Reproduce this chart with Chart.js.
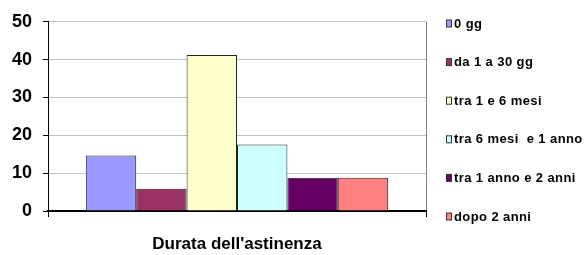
<!DOCTYPE html>
<html>
<head>
<meta charset="utf-8">
<script src="https://cdn.jsdelivr.net/npm/chart.js@4/dist/chart.umd.min.js"></script>
<style>
  html, body { margin: 0; padding: 0; background: #fff; }
  #grafico { display: block; }
</style>
</head>
<body>
<canvas id="grafico" width="584" height="255"></canvas>
<script>
// dati (percentuali)
const categorie = [''];
const etichette = ['0 gg', 'da 1 a 30 gg', 'tra 1 e 6 mesi', 'tra 6 mesi  e 1 anno', 'tra 1 anno e 2 anni', 'dopo 2 anni'];
const valori = [14.7, 5.9, 41.2, 17.6, 8.8, 8.8];
const colori = ['#9999FF', '#993366', '#FFFFCC', '#CCFFFF', '#660066', '#FF8080'];
const tickY = [0, 10, 20, 30, 40, 50];

const FONT = 'Liberation Sans, Arial, sans-serif';

// legenda a destra disegnata a mano per avere le posizioni giuste
const legendaDestra = {
    id: 'legendaDestra',
    afterDraw(chart) {
        const c = chart.ctx;
        c.save();
        c.font = 'bold 13px ' + FONT;
        c.letterSpacing = '0.4px';
        c.textBaseline = 'middle';
        c.textAlign = 'left';
        chart.data.datasets.forEach((ds, i) => {
            const y = 23 + i * 38.6;
            c.fillStyle = ds.backgroundColor;
            c.fillRect(446.5, y - 3, 5, 7);
            c.strokeStyle = '#333';
            c.lineWidth = 1;
            c.strokeRect(446.5, y - 3, 5, 7);
            c.fillStyle = '#000';
            c.fillText(ds.label, 454, y + 1);
        });
        c.restore();
    }
};

const ctx = document.getElementById('grafico').getContext('2d');

const config = {
    type: 'bar',
    data: {
        labels: categorie,
        datasets: etichette.map((nome, i) => ({
            label: nome,
            data: [valori[i]],
            backgroundColor: colori[i],
            borderColor: '#222',
            borderWidth: 1,
            categoryPercentage: 0.8,
            barPercentage: 1.0
        }))
    },
    options: {
        responsive: false,
        animation: false,
        layout: { padding: { left: 0, right: 158, top: 16, bottom: 0 } },
        plugins: {
            legend: { display: false },
            tooltip: { enabled: false }
        },
        scales: {
            x: {
                grid: {
                    offset: true,
                    color: '#808080',
                    tickColor: '#000',
                    tickLength: 6,
                    lineWidth: 1
                },
                border: { color: '#000', width: 2 },
                ticks: { display: false },
                title: {
                    display: true,
                    text: "Durata dell'astinenza",
                    color: '#000',
                    font: { family: FONT, size: 17, weight: 'bold' },
                    padding: { top: 0, bottom: 0 }
                },
                afterFit(scale) { scale.height = 44; }
            },
            y: {
                min: 0,
                max: 50,
                afterBuildTicks(scale) {
                    scale.ticks = tickY.map(v => ({ value: v }));
                },
                grid: {
                    color: '#c0c0c0',
                    tickColor: '#000',
                    tickLength: 5
                },
                border: { color: '#000', width: 1 },
                ticks: {
                    color: '#000',
                    padding: 11,
                    font: { family: FONT, size: 18, weight: 'bold' }
                },
                afterFit(scale) { scale.width = 48; }
            }
        }
    },
    plugins: [legendaDestra]
};

const grafico = new Chart(ctx, config);
</script>
</body>
</html>
